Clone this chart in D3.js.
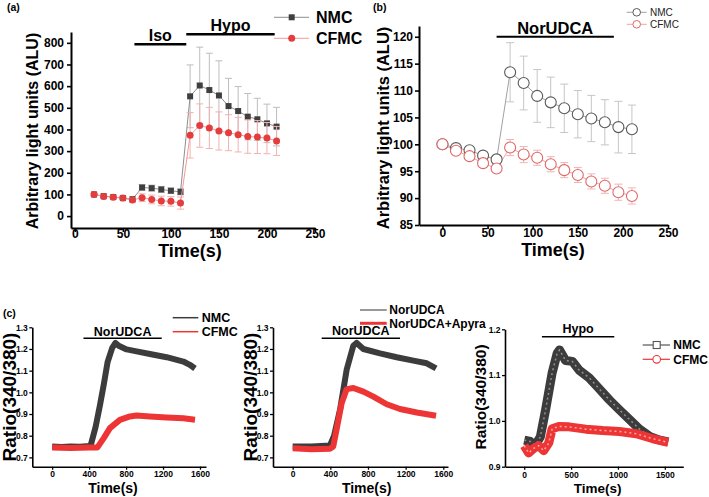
<!DOCTYPE html>
<html>
<head>
<meta charset="utf-8">
<script src="https://cdn.jsdelivr.net/npm/d3@7"></script>
<style>
  body { margin: 0; background: #fff; }
  svg { display: block; font-family: "Liberation Sans", Arial, sans-serif; }
  .axis path, .axis line { stroke: #000; }
  .axis text { font-weight: bold; fill: #000; font-family: "Liberation Sans", Arial, sans-serif; }
</style>
</head>
<body>
<svg id="fig" width="709" height="497"></svg>
<script>
// ---- panel (a): luminescence, Iso then Hypo ----
const aTime = [20, 30, 40, 50, 60, 70, 80, 90, 100, 110, 120, 130, 140, 150, 160, 170, 180, 190, 200, 210];
const aNMC = [100, 92, 88, 83, 78, 132, 129, 123, 117, 112, 553, 603, 582, 557, 508, 485, 459, 447, 428, 413];
const aNMCErr = [5, 5, 5, 5, 8, 14, 14, 14, 13, 14, 145, 177, 170, 160, 128, 113, 107, 97, 89, 89];
const aCFMC = [100, 91, 87, 83, 74, 85, 77, 70, 68, 60, 373, 418, 407, 393, 385, 376, 367, 365, 360, 347];
const aCFMCErr = [6, 6, 7, 7, 10, 18, 20, 22, 22, 28, 105, 100, 95, 88, 83, 80, 77, 76, 72, 67];
const aXTicks = [0, 50, 100, 150, 200, 250];
const aYTicks = [0, 100, 200, 300, 400, 500, 600, 700, 800];
const aBars = [{ label: 'Iso', from: 62, to: 116 }, { label: 'Hypo', from: 116, to: 208 }];

// ---- panel (b): luminescence, NorUDCA ----
const bTime = [0, 15, 30, 45, 60, 75, 90, 105, 120, 135, 150, 165, 180, 195, 210];
const bNMC = [100, 99.3, 98.9, 97.9, 97.2, 113.4, 111.4, 109.0, 107.8, 106.7, 105.6, 104.8, 104.1, 103.2, 102.8];
const bNMCErr = [0.3, 0.4, 0.4, 0.4, 0.5, 5.5, 5.0, 4.9, 4.7, 4.5, 4.4, 4.3, 4.2, 4.8, 4.5];
const bCFMC = [100, 98.8, 97.8, 96.5, 95.5, 99.4, 98.1, 97.5, 96.3, 95.2, 94.3, 93.1, 92.3, 91.1, 90.4];
const bCFMCErr = [0.4, 0.5, 0.5, 0.5, 0.5, 1.5, 1.5, 1.4, 1.4, 1.4, 1.4, 1.4, 1.4, 1.5, 1.5];
const bXTicks = [0, 50, 100, 150, 200, 250];
const bYTicks = [85, 90, 95, 100, 105, 110, 115, 120];
const bBar = { label: 'NorUDCA', from: 60, to: 190 };

// ---- panel (c): Fura-2 ratio traces [time s, ratio] ----
const c1NMC = [[0, 0.75], [100, 0.748], [200, 0.75], [300, 0.749], [400, 0.752], [420, 0.76], [470, 0.84], [517, 0.94], [560, 1.04], [600, 1.14], [650, 1.205], [685, 1.228], [720, 1.215], [806, 1.198], [900, 1.19], [1058, 1.177], [1239, 1.162], [1420, 1.142], [1490, 1.127], [1546, 1.11]];
const c1CFMC = [[0, 0.745], [200, 0.743], [400, 0.745], [490, 0.746], [560, 0.79], [625, 0.835], [733, 0.873], [842, 0.889], [914, 0.893], [1058, 0.889], [1239, 0.884], [1420, 0.88], [1546, 0.874]];
const c2Nor = [[0, 0.75], [200, 0.75], [396, 0.755], [440, 0.80], [503, 0.92], [574, 1.105], [644, 1.215], [680, 1.228], [751, 1.2], [928, 1.18], [1105, 1.162], [1282, 1.146], [1424, 1.134], [1523, 1.11]];
const c2Apy = [[0, 0.742], [200, 0.738], [396, 0.74], [431, 0.75], [467, 0.83], [520, 0.95], [574, 1.015], [644, 1.02], [751, 1.003], [857, 0.98], [999, 0.945], [1140, 0.923], [1318, 0.907], [1523, 0.892]];
const c3NMC = [[0, 0.958], [65, 0.955], [118, 0.947], [172, 0.965], [226, 1.022], [298, 1.105], [352, 1.148], [377, 1.155], [441, 1.132], [513, 1.13], [585, 1.111], [693, 1.094], [800, 1.07], [908, 1.046], [1016, 1.024], [1123, 1.003], [1231, 0.982], [1339, 0.966], [1446, 0.958], [1536, 0.954]];
const c3CFMC = [[0, 0.946], [47, 0.93], [101, 0.94], [154, 0.946], [208, 0.935], [262, 0.952], [298, 0.983], [370, 0.988], [477, 0.987], [657, 0.982], [836, 0.979], [1016, 0.977], [1195, 0.972], [1375, 0.961], [1536, 0.953]];
const cXTicks = [0, 400, 800, 1200, 1600];
const cYTicks = [0.7, 0.8, 0.9, 1.0, 1.1, 1.2, 1.3];
const c3XTicks = [0, 500, 1000, 1500];
const c3YTicks = [0.9, 1.0, 1.1, 1.2];

const svg = d3.select('#fig');
const FONT = '"Liberation Sans", Arial, sans-serif';

function drawAxes(x, y, o) {
    const xa = svg.append('g')
        .attr('class', 'axis')
        .attr('transform', `translate(0,${y.range()[0]})`)
        .call(d3.axisBottom(x).tickValues(o.xTicks).tickSize(o.tick).tickSizeOuter(0)
            .tickFormat(o.xFmt || d3.format('d')));
    xa.selectAll('text').attr('y', o.xLabY).attr('dy', '0.35em').style('font-size', o.tickFont + 'px');

    const ya = svg.append('g')
        .attr('class', 'axis')
        .attr('transform', `translate(${x.range()[0]},0)`)
        .call(d3.axisLeft(y).tickValues(o.yTicks).tickSize(o.tick).tickPadding(o.yPad).tickSizeOuter(0)
            .tickFormat(o.yFmt || d3.format('d')));
    ya.selectAll('text').style('font-size', o.tickFont + 'px');

    [xa, ya].forEach(a => {
        a.select('.domain').attr('stroke-width', o.sw);
        a.selectAll('.tick line').attr('stroke-width', o.sw * 0.8);
    });

    svg.append('text')
        .attr('x', o.xTitle[0]).attr('y', o.xTitle[1]).attr('dy', '0.35em')
        .attr('text-anchor', 'middle')
        .style('font', `bold ${o.xTitleFont}px ${FONT}`)
        .text('Time(s)');

    svg.append('text')
        .attr('transform', `translate(${o.yTitle[0]},${o.yTitle[1]}) rotate(-90)`)
        .attr('dy', '0.35em')
        .attr('text-anchor', 'middle')
        .style('font', `bold ${o.yTitleFont}px ${FONT}`)
        .text(o.yLabel);
}

function treatmentBar(x, from, to, yBar, label, yText, size, sw) {
    svg.append('line')
        .attr('x1', x(from)).attr('x2', x(to))
        .attr('y1', yBar).attr('y2', yBar)
        .attr('stroke', '#000').attr('stroke-width', sw);
    svg.append('text')
        .attr('x', (x(from) + x(to)) / 2).attr('y', yText)
        .attr('text-anchor', 'middle')
        .style('font', `bold ${size}px ${FONT}`)
        .text(label);
}

function panelTag(txt, px, py) {
    svg.append('text').attr('x', px).attr('y', py).attr('dy', '0.35em')
        .style('font', `bold 10.5px ${FONT}`).text(txt);
}

function errorBars(x, y, xs, ys, es, color, cap) {
    const g = svg.append('g').attr('stroke', color).attr('stroke-width', 1);
    xs.forEach((t, i) => {
        const cx = x(t), y0 = y(ys[i] - es[i]), y1 = y(ys[i] + es[i]);
        g.append('line').attr('x1', cx).attr('x2', cx).attr('y1', y0).attr('y2', y1);
        g.append('line').attr('x1', cx - cap).attr('x2', cx + cap).attr('y1', y0).attr('y2', y0);
        g.append('line').attr('x1', cx - cap).attr('x2', cx + cap).attr('y1', y1).attr('y2', y1);
    });
}

// ================= (a) =================
{
    const x = d3.scaleLinear().domain([-4, 250]).range([71, 315]);
    const y = d3.scaleLinear().domain([-55, 850]).range([228, 32]);

    drawAxes(x, y, {
        xTicks: aXTicks, yTicks: aYTicks, tick: 4, yPad: 3, xLabY: 6, tickFont: 12, sw: 2,
        xTitle: [190, 251], xTitleFont: 18, yTitle: [32, 131], yTitleFont: 16,
        yLabel: 'Arbitrary light units (ALU)'
    });

    const line = d3.line().x((d, i) => x(aTime[i])).y(d => y(d));

    errorBars(x, y, aTime, aNMC, aNMCErr, '#bdbdbd', 3.5);
    svg.append('path').datum(aNMC).attr('d', line)
        .attr('fill', 'none').attr('stroke', '#8e8e8e').attr('stroke-width', 1);
    svg.append('g').selectAll('rect').data(aNMC).join('rect')
        .attr('x', (d, i) => x(aTime[i]) - 3).attr('y', d => y(d) - 3)
        .attr('width', 6).attr('height', 6).attr('fill', '#3f3f3f');

    errorBars(x, y, aTime, aCFMC, aCFMCErr, '#f4b0b0', 3.5);
    svg.append('path').datum(aCFMC).attr('d', line)
        .attr('fill', 'none').attr('stroke', '#f09a9a').attr('stroke-width', 1);
    svg.append('g').selectAll('circle').data(aCFMC).join('circle')
        .attr('cx', (d, i) => x(aTime[i])).attr('cy', d => y(d))
        .attr('r', 3.5).attr('fill', '#e33d3d');

    treatmentBar(x, aBars[0].from, aBars[0].to, 44.3, aBars[0].label, 41, 16, 2.5);
    treatmentBar(x, aBars[1].from, aBars[1].to, 34.3, aBars[1].label, 30.5, 16, 2.5);

    // legend
    const lg = [['NMC', 17.3, '#8e8e8e', '#3f3f3f', 'rect'], ['CFMC', 38.3, '#f09a9a', '#e33d3d', 'circle']];
    lg.forEach(([name, ly, lc, mc, shape]) => {
        svg.append('line').attr('x1', 274).attr('x2', 309).attr('y1', ly).attr('y2', ly)
            .attr('stroke', lc).attr('stroke-width', 1);
        if (shape === 'rect') {
            svg.append('rect').attr('x', 288.7).attr('y', ly - 3).attr('width', 6).attr('height', 6).attr('fill', mc);
        } else {
            svg.append('circle').attr('cx', 291.7).attr('cy', ly).attr('r', 3.5).attr('fill', mc);
        }
        svg.append('text').attr('x', 316).attr('y', ly).attr('dy', '0.35em')
            .style('font', `bold 16px ${FONT}`).text(name);
    });

    panelTag('(a)', 7, 7.5);
}

// ================= (b) =================
{
    const x = d3.scaleLinear().domain([-26, 250]).range([419, 668]);
    const y = d3.scaleLinear().domain([85, 122]).range([225, 26]);

    drawAxes(x, y, {
        xTicks: bXTicks, yTicks: bYTicks, tick: 4, yPad: 2, xLabY: 7.5, tickFont: 12, sw: 2,
        xTitle: [553, 249.5], xTitleFont: 18, yTitle: [383, 128], yTitleFont: 16.5,
        yLabel: 'Arbitrary light units (ALU)'
    });

    const line = d3.line().x((d, i) => x(bTime[i])).y(d => y(d));

    errorBars(x, y, bTime, bNMC, bNMCErr, '#c6c6c6', 4);
    errorBars(x, y, bTime, bCFMC, bCFMCErr, '#f0b4b4', 4);

    svg.append('path').datum(bNMC).attr('d', line)
        .attr('fill', 'none').attr('stroke', '#a0a0a0').attr('stroke-width', 1);
    svg.append('path').datum(bCFMC).attr('d', line)
        .attr('fill', 'none').attr('stroke', '#eda3a3').attr('stroke-width', 1);

    svg.append('g').selectAll('circle').data(bNMC).join('circle')
        .attr('cx', (d, i) => x(bTime[i])).attr('cy', d => y(d)).attr('r', 5.5)
        .attr('fill', '#fff').attr('stroke', '#5a5a5a').attr('stroke-width', 1.1);
    svg.append('g').selectAll('circle').data(bCFMC).join('circle')
        .attr('cx', (d, i) => x(bTime[i])).attr('cy', d => y(d)).attr('r', 5.5)
        .attr('fill', '#fff').attr('stroke', '#e06868').attr('stroke-width', 1.1);

    treatmentBar(x, bBar.from, bBar.to, 36.7, bBar.label, 34, 16.5, 2);

    const lg = [['NMC', 12.3, '#a0a0a0', '#5a5a5a'], ['CFMC', 24.3, '#eda3a3', '#e06868']];
    lg.forEach(([name, ly, lc, mc]) => {
        svg.append('line').attr('x1', 626.7).attr('x2', 646.7).attr('y1', ly).attr('y2', ly)
            .attr('stroke', lc).attr('stroke-width', 1);
        svg.append('circle').attr('cx', 636.7).attr('cy', ly).attr('r', 3.8)
            .attr('fill', '#fff').attr('stroke', mc).attr('stroke-width', 1);
        svg.append('text').attr('x', 650).attr('y', ly).attr('dy', '0.35em')
            .style('font', `10px ${FONT}`).attr('fill', '#222').text(name);
    });

    panelTag('(b)', 373, 7.5);
}

// ================= (c) =================
const fmt1 = d3.format('.1f');

function ratioPanel(o) {
    const x = d3.scaleLinear().domain(o.xDom).range(o.xRange);
    const y = d3.scaleLinear().domain(o.yDom).range(o.yRange);

    drawAxes(x, y, {
        xTicks: o.xTicks, yTicks: o.yTicks, tick: 3, yPad: 1.5, xLabY: o.xLabY, tickFont: 8.5, sw: 1.6,
        yFmt: fmt1, xTitle: o.xTitle, xTitleFont: o.xTitleFont, yTitle: o.yTitle, yTitleFont: o.yTitleFont,
        yLabel: 'Ratio(340/380)'
    });

    const line = d3.line().x(d => x(d[0])).y(d => y(d[1])).curve(d3.curveLinear);
    o.series.forEach(s => {
        svg.append('path').datum(s.data).attr('d', line)
            .attr('fill', 'none').attr('stroke', s.color).attr('stroke-width', o.band)
            .attr('stroke-linejoin', 'round').attr('stroke-linecap', 'butt');
        if (o.hollow) {
            svg.append('path').datum(s.data).attr('d', line)
                .attr('fill', 'none').attr('stroke', s.inner).attr('stroke-width', 1.5)
                .attr('stroke-dasharray', '2 3');
        }
    });

    treatmentBar(x, o.bar.from, o.bar.to, o.bar.y, o.bar.label, o.bar.ty, o.bar.size, 1.6);
    return x;
}

ratioPanel({
    xDom: [-215, 1665], xRange: [32.3, 206], yDom: [0.657, 1.3], yRange: [466.7, 327.3],
    xTicks: cXTicks, yTicks: cYTicks, xLabY: 7.5,
    xTitle: [113, 488.5], xTitleFont: 14, yTitle: [9.5, 397], yTitleFont: 19,
    band: 6, series: [{ data: c1NMC, color: '#3c3c3c' }, { data: c1CFMC, color: '#ee3535' }],
    bar: { from: 339, to: 1186, y: 338.3, label: 'NorUDCA', ty: 335.5, size: 12.5 }
});

ratioPanel({
    xDom: [-209, 1650], xRange: [273, 448], yDom: [0.657, 1.3], yRange: [466.7, 327.3],
    xTicks: cXTicks, yTicks: cYTicks, xLabY: 7.5,
    xTitle: [366.7, 488.5], xTitleFont: 14, yTitle: [250, 397], yTitleFont: 19,
    band: 6, series: [{ data: c2Nor, color: '#3c3c3c' }, { data: c2Apy, color: '#ee3535' }],
    bar: { from: 308, to: 1140, y: 338.3, label: 'NorUDCA', ty: 335, size: 12.5 }
});

ratioPanel({
    xDom: [-205, 1697], xRange: [505, 683.3], yDom: [0.9, 1.2], yRange: [466.7, 329.3],
    xTicks: c3XTicks, yTicks: c3YTicks, xLabY: 8,
    xTitle: [597.7, 488.5], xTitleFont: 13.5, yTitle: [481, 397], yTitleFont: 15.5,
    band: 9, hollow: true,
    series: [{ data: c3NMC, color: '#3c3c3c', inner: '#909090' }, { data: c3CFMC, color: '#ee3535', inner: '#f8a8a8' }],
    bar: { from: 189, to: 961, y: 336.7, label: 'Hypo', ty: 332.5, size: 12.5 }
});

// (c) legends
[['NMC', 317.7, '#3c3c3c', 1.5], ['CFMC', 331.7, '#ee3535', 1.5]].forEach(([n, ly, c, w]) => {
    svg.append('line').attr('x1', 172.7).attr('x2', 198.3).attr('y1', ly).attr('y2', ly)
        .attr('stroke', c).attr('stroke-width', w);
    svg.append('text').attr('x', 201.7).attr('y', ly).attr('dy', '0.35em')
        .style('font', `bold 12.5px ${FONT}`).text(n);
});
[['NorUDCA', 310, '#777', 1.5], ['NorUDCA+Apyra', 323.3, '#ee3535', 3]].forEach(([n, ly, c, w]) => {
    svg.append('line').attr('x1', 360).attr('x2', 386.7).attr('y1', ly).attr('y2', ly)
        .attr('stroke', c).attr('stroke-width', w);
    svg.append('text').attr('x', 389.3).attr('y', ly).attr('dy', '0.35em')
        .style('font', `bold 12px ${FONT}`).text(n);
});
[['NMC', 345, '#555', 'rect'], ['CFMC', 359.3, '#ee3535', 'circle']].forEach(([n, ly, c, shape]) => {
    svg.append('line').attr('x1', 642.7).attr('x2', 670).attr('y1', ly).attr('y2', ly)
        .attr('stroke', c).attr('stroke-width', 1.2);
    if (shape === 'rect') {
        svg.append('rect').attr('x', 653.2).attr('y', ly - 3.5).attr('width', 7).attr('height', 7)
            .attr('fill', '#fff').attr('stroke', c).attr('stroke-width', 1.1);
    } else {
        svg.append('circle').attr('cx', 656.7).attr('cy', ly).attr('r', 3.8)
            .attr('fill', '#fff').attr('stroke', c).attr('stroke-width', 1.1);
    }
    svg.append('text').attr('x', 673.3).attr('y', ly).attr('dy', '0.35em')
        .style('font', `bold 12px ${FONT}`).text(n);
});

panelTag('(c)', 3, 313);
</script>
</body>
</html>
